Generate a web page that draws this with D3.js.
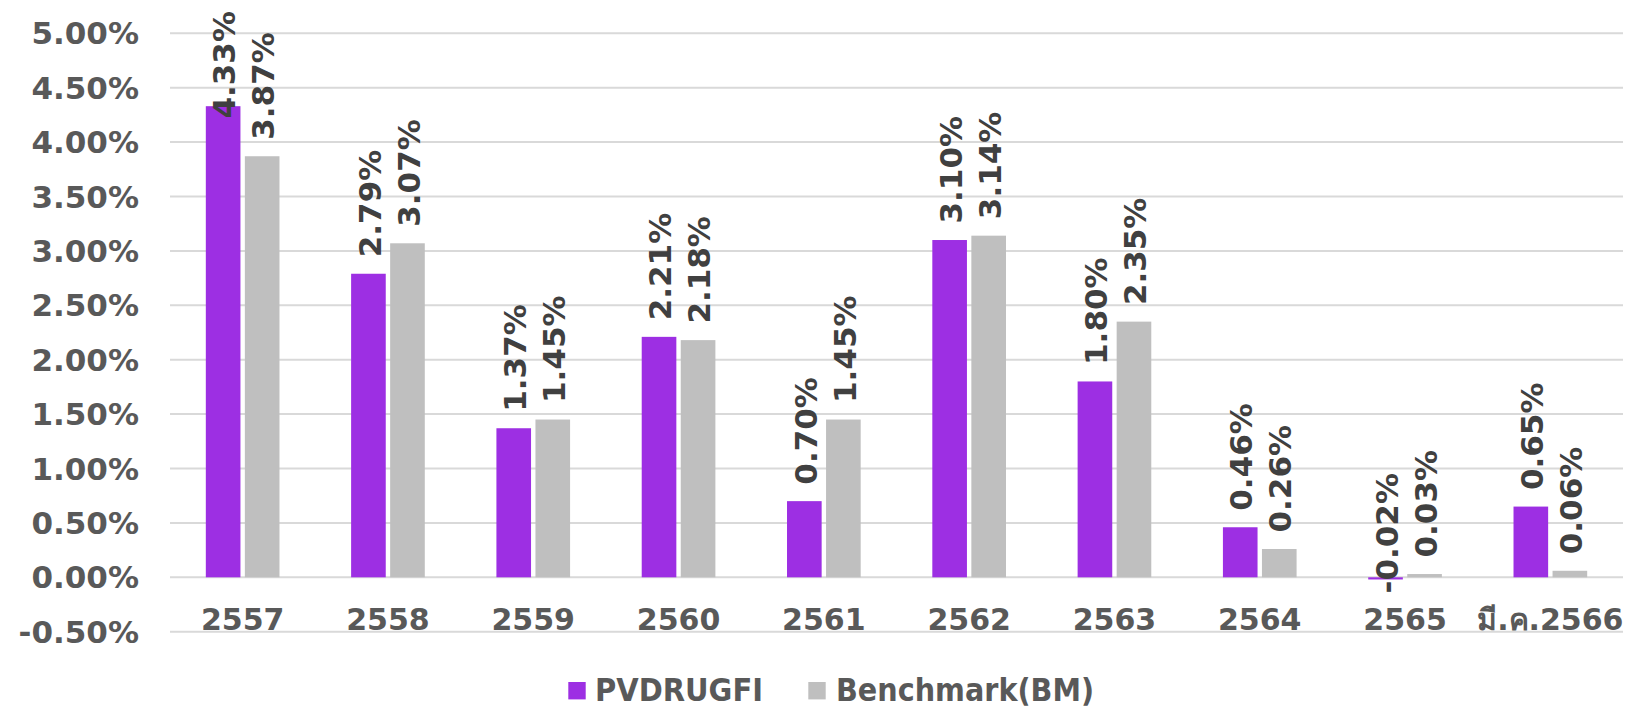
<!DOCTYPE html>
<html>
<head>
<meta charset="utf-8">
<script src="https://cdn.jsdelivr.net/npm/d3@7"></script>
<style>
  html, body { margin: 0; padding: 0; background: #fff; overflow: hidden; }
  svg { display: block; }
  text { font-family: "DejaVu Sans", sans-serif; font-weight: bold; }
</style>
</head>
<body>
<svg id="chart" width="1630" height="708"></svg>
<script>
// Annual returns (%) of the fund and its benchmark
const categories = ["2557", "2558", "2559", "2560", "2561", "2562", "2563", "2564", "2565", "มี.ค.2566"];
const fundValues = [4.33, 2.79, 1.37, 2.21, 0.70, 3.10, 1.80, 0.46, -0.02, 0.65];
const benchValues = [3.87, 3.07, 1.45, 2.18, 1.45, 3.14, 2.35, 0.26, 0.03, 0.06];
const seriesNames = ["PVDRUGFI", "Benchmark(BM)"];
const yTicks = [-0.5, 0, 0.5, 1, 1.5, 2, 2.5, 3, 3.5, 4, 4.5, 5];

const colors = ["#9d2fe3", "#bfbfbf"];
const svg = d3.select("#chart");

const plot = { left: 170, right: 1623, top: 33.3, bottom: 631.7 };

const y = d3.scaleLinear().domain([-0.5, 5]).range([plot.bottom, plot.top]);
const x0 = d3.scaleBand().domain(categories).range([plot.left, plot.right]).padding(0);
const bw = x0.bandwidth();
const groupW = bw * 0.507;
const x1 = d3.scaleBand().domain([0, 1])
  .range([(bw - groupW) / 2, (bw + groupW) / 2])
  .paddingInner(0.113).paddingOuter(0);

const fmt = v => v.toFixed(2) + "%";

// gridlines
svg.append("g").selectAll("line").data(yTicks).join("line")
  .attr("x1", plot.left).attr("x2", plot.right)
  .attr("y1", d => y(d)).attr("y2", d => y(d))
  .attr("stroke", "#d9d9d9").attr("stroke-width", 2);

// y tick labels
svg.append("g").selectAll("text").data(yTicks).join("text")
  .attr("x", 139).attr("y", d => y(d)).attr("dy", "0.36em")
  .attr("text-anchor", "end")
  .attr("font-size", 31).attr("fill", "#595959")
  .text(d => fmt(d));

// category labels
svg.append("g").selectAll("text").data(categories).join("text")
  .attr("x", d => x0(d) + bw / 2).attr("y", 630)
  .attr("text-anchor", "middle")
  .attr("font-size", 30).attr("fill", "#595959")
  .text(d => d);

const rows = categories.map((c, i) => ({ c, vals: [fundValues[i], benchValues[i]] }));

const groups = svg.append("g").selectAll("g").data(rows).join("g")
  .attr("transform", d => `translate(${x0(d.c)},0)`);

groups.selectAll("rect").data(d => d.vals.map((v, k) => ({ v, k }))).join("rect")
  .attr("x", d => x1(d.k)).attr("width", x1.bandwidth())
  .attr("y", d => Math.min(y(d.v), y(0)))
  .attr("height", d => Math.abs(y(d.v) - y(0)))
  .attr("fill", d => colors[d.k]);

// rotated value labels above each bar
groups.selectAll("text").data(d => d.vals.map((v, k) => ({ v, k }))).join("text")
  .attr("font-size", 31).attr("fill", "#404040")
  .attr("text-anchor", "start").attr("dy", "0.36em")
  .text(d => fmt(d.v))
  .each(function (d) {
    const len = this.getComputedTextLength();
    const cx = x1(d.k) + x1.bandwidth() / 2 + 1;
    let start = d.v >= 0 ? y(d.v) - 16.5 : y(d.v) + 14;
    if (start - len < 11) start = 11 + len;
    d3.select(this).attr("transform", `translate(${cx},${start}) rotate(-90)`);
  });

// legend
const legend = svg.append("g");
const legendItems = [{ x: 568.3, tx: 595, w: 168 }, { x: 808.3, tx: 836, w: 258 }];
legendItems.forEach((it, i) => {
  legend.append("rect").attr("x", it.x).attr("y", 682).attr("width", 17.4).attr("height", 17.4)
    .attr("fill", colors[i]);
  legend.append("text").attr("x", it.tx).attr("y", 700.5)
    .attr("font-size", 32).attr("fill", "#595959")
    .attr("textLength", it.w).attr("lengthAdjust", "spacingAndGlyphs")
    .text(seriesNames[i]);
});
</script>
</body>
</html>
